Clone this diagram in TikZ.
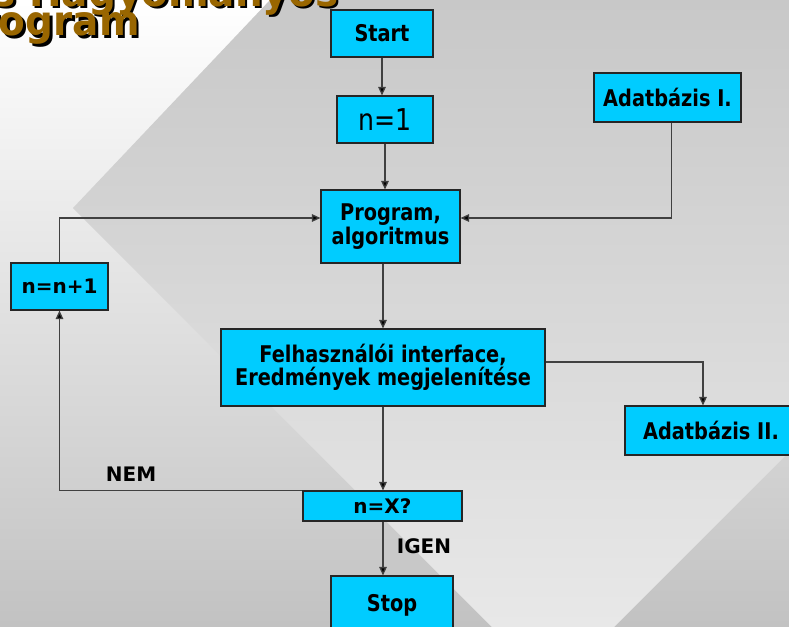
\documentclass[tikz,border=0pt]{standalone}
\usepackage{fontspec}
\setmainfont{DejaVu Sans}
\newfontfamily\narrowfont{DejaVu Sans}[FakeStretch=0.84]
\newfontfamily\titlefont{DejaVu Sans}[FakeStretch=0.95]
\usetikzlibrary{arrows.meta,calc}
\definecolor{boxcyan}{HTML}{00CCFF}
\definecolor{titlebrown}{HTML}{996600}
\definecolor{linegray}{HTML}{404040}
\definecolor{bgtop}{HTML}{FFFFFF}
\definecolor{bgbottom}{HTML}{C2C2C2}
\definecolor{bandtop}{HTML}{C8C8C8}
\definecolor{bandbottom}{HTML}{E8E8E8}

\begin{document}
\begin{tikzpicture}[x=1pt,y=-1pt,
  box/.style={draw=black!85,line width=1.1pt,fill=boxcyan,inner sep=0pt,align=center,
    font=\narrowfont\bfseries\fontsize{23}{19.5}\selectfont},
  wide/.style={font=\bfseries\fontsize{20}{22}\selectfont},
  flow/.style={draw=linegray,line width=1.3pt,-{Triangle[length=8.5pt,width=7.5pt,fill=black]}},
  lbl/.style={inner sep=0pt,font=\bfseries\fontsize{20}{22}\selectfont},
  ttl/.style={inner sep=0pt,anchor=base west,font=\titlefont\bfseries\fontsize{41}{41}\selectfont}]

\useasboundingbox (0,0) rectangle (789,626);

% slide background: vertical blend with a lighter slanted band
\shade[top color=bgtop,bottom color=bgbottom] (0,0) rectangle (789,626);
\begin{scope}
  \clip (73,208) -- (553,688) -- (1553,-312) -- (1058,-832) -- cycle;
  \shade[top color=bandtop,bottom color=bandbottom] (0,0) rectangle (789,626);
\end{scope}

% title (drop shadow first)
\node[ttl,text=black] (t1s) at (-31.5,9) {és Hagyományos};
\node[ttl,text=titlebrown] (t1) at (-34,6.5) {és Hagyományos};
\node[ttl,text=black] (t2s) at (-46.5,38.5) {Program};
\node[ttl,text=titlebrown] (t2) at (-49,36) {Program};

% flowchart boxes
\node[box,minimum width=102pt,minimum height=47pt] (start) at (382,33.5) {Start};
\node[box,minimum width=96pt,minimum height=47pt,font=\narrowfont\fontsize{30}{30}\selectfont] (n1) at (385,119.5) {n=1};
\node[box,minimum width=139pt,minimum height=73pt] (prog) at (390.5,226.5) {Program,\\algoritmus};
\node[box,minimum width=147pt,minimum height=49pt] (db1) at (667.5,97.5) {Adatbázis I.};
\node[box,wide,minimum width=97pt,minimum height=47pt] (inc) at (59.5,286.5) {n=n+1};
\node[box,minimum width=324pt,minimum height=77pt] (ui) at (383,367.5) {Felhasználói interface,\\Eredmények megjelenítése};
\node[box,minimum width=172pt,minimum height=49pt] (db2) at (711,430.5) {Adatbázis II.};
\node[box,wide,minimum width=159pt,minimum height=30pt] (cond) at (382.5,506) {n=X?};
\node[box,minimum width=122pt,minimum height=58pt] (stop) at (392,605) {Stop};

% entry points on the box sides
\coordinate (progL) at ($(prog.west)+(0,-8.5)$);
\coordinate (progR) at ($(prog.east)+(0,-8.5)$);
\coordinate (db1out) at ($(db1.south)+(4,0)$);
\coordinate (uiR) at ($(ui.east)+(0,-5.5)$);
\coordinate (db2in) at ($(db2.north)+(-8,0)$);

% connectors
\draw[flow] (start.south) -- (start.south |- n1.north);
\draw[flow] (n1.south) -- (n1.south |- prog.north);
\draw[flow] (db1out) |- (progR);
\draw[flow] (inc.north) |- (progL);
\draw[flow] (prog.south -| ui.north) -- (ui.north);
\draw[flow] (uiR) -| (db2in);
\draw[flow] (ui.south) -- (ui.south |- cond.north);
\draw[flow] (cond.north west) -| (inc.south);
\draw[flow] (ui.south |- cond.south) -- (ui.south |- stop.north);

% branch labels
\node[lbl] (nem) at (131,474) {NEM};
\node[lbl] (igen) at (424,546) {IGEN};
\end{tikzpicture}
\end{document}
